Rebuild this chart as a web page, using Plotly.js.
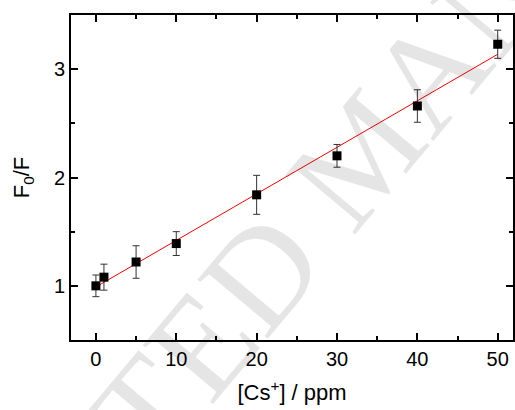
<!DOCTYPE html>
<html>
<head>
<meta charset="utf-8">
<script src="https://cdn.plot.ly/plotly-3.0.1.min.js"></script>
<style>html,body{margin:0;padding:0;background:#fff;}#chart{width:515px;height:410px;}</style>
</head>
<body>
<div id="chart"></div>
<script>
// Data
const concPpm = [0, 1, 5, 10, 20, 30, 40, 50];
const f0OverF = [1.00, 1.08, 1.22, 1.39, 1.84, 2.20, 2.66, 3.23];
const errF0F  = [0.10, 0.12, 0.15, 0.11, 0.18, 0.105, 0.15, 0.13];
const xTickVals = [0, 10, 20, 30, 40, 50];
const yTickVals = [1, 2, 3];

// Linear least-squares fit of the data
function linFit(x, y) {
  const n = x.length;
  const mx = x.reduce((a, b) => a + b, 0) / n;
  const my = y.reduce((a, b) => a + b, 0) / n;
  let sxy = 0, sxx = 0;
  for (let i = 0; i < n; i++) { sxy += (x[i] - mx) * (y[i] - my); sxx += (x[i] - mx) ** 2; }
  const slope = sxy / sxx;
  return { slope, intercept: my - slope * mx };
}
const fit = linFit(concPpm, f0OverF);
const fitX = [concPpm[0], concPpm[concPpm.length - 1]];
const fitY = fitX.map(v => fit.intercept + fit.slope * v);

const traces = [
  {
    x: fitX, y: fitY, type: 'scatter', mode: 'lines',
    line: { color: '#ff0000', width: 1 }, hoverinfo: 'skip', showlegend: false
  },
  {
    x: concPpm, y: f0OverF, type: 'scatter', mode: 'markers',
    marker: { symbol: 'square', size: 9, color: '#000000' },
    error_y: { type: 'data', array: errF0F, visible: true, color: '#333333', thickness: 1, width: 3.5 },
    showlegend: false
  }
];

const axisCommon = {
  showline: true, linecolor: '#000', linewidth: 2, mirror: 'ticks',
  ticks: 'inside', ticklen: 7, tickwidth: 2, tickcolor: '#000',
  showgrid: false, zeroline: false,
  tickfont: { family: 'Liberation Sans, Arial, sans-serif', size: 20, color: '#000' }
};

const layout = {
  width: 515, height: 410,
  margin: { l: 71, r: 2, t: 15, b: 70 },
  paper_bgcolor: '#fff', plot_bgcolor: '#fff',
  showlegend: false,
  xaxis: Object.assign({}, axisCommon, {
    range: [-3.1, 51.9], tickmode: 'array', tickvals: xTickVals,
    minor: { dtick: 5, tick0: 0, ticks: 'inside', ticklen: 4, tickwidth: 2, tickcolor: '#000' },
    title: { text: '[Cs<sup>+</sup>] / ppm', font: { family: 'Liberation Sans, Arial, sans-serif', size: 22, color: '#000' }, standoff: 16 }
  }),
  yaxis: Object.assign({}, axisCommon, {
    range: [0.5, 3.5], tickmode: 'array', tickvals: yTickVals,
    minor: { dtick: 0.5, tick0: 0, ticks: 'inside', ticklen: 4, tickwidth: 2, tickcolor: '#000' },
    title: { text: 'F<sub>0</sub>/F', font: { family: 'Liberation Sans, Arial, sans-serif', size: 22, color: '#000' }, standoff: 18 }
  }),
  annotations: [{
    text: 'ACCEPTED MANUSCRIPT', xref: 'paper', yref: 'paper', x: 0.66, y: 0.58,
    xanchor: 'center', yanchor: 'middle', showarrow: false, textangle: -50,
    font: { family: 'Liberation Serif, Times New Roman, serif', size: 140, color: 'rgba(0,0,0,0.10)' }
  }]
};

Plotly.newPlot('chart', traces, layout, { staticPlot: true, displayModeBar: false });
</script>
</body>
</html>
